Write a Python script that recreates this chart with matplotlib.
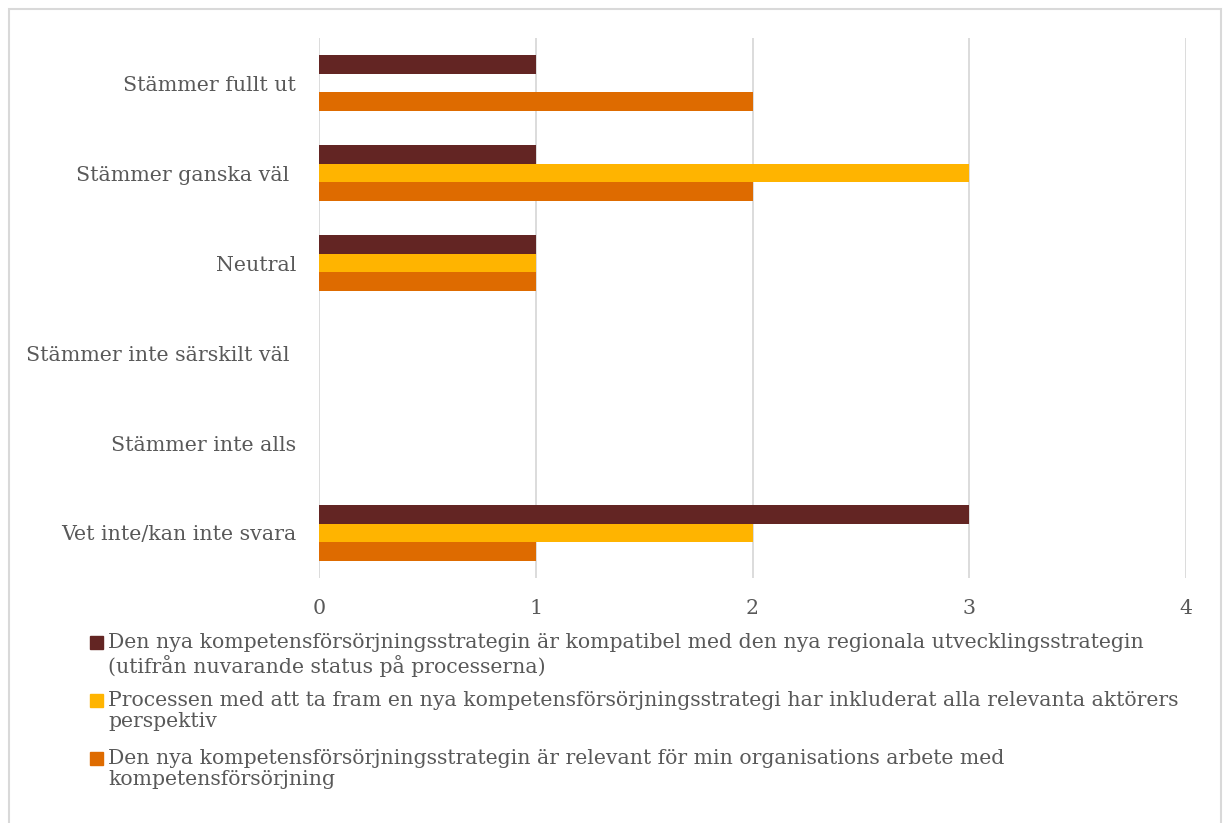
import matplotlib
matplotlib.use("Agg")
import matplotlib.pyplot as plt
from matplotlib.patches import Rectangle
import numpy as np

plt.rcParams["font.family"] = ["DejaVu Serif"]

categories = [
    "Stämmer fullt ut",
    "Stämmer ganska väl ",
    "Neutral",
    "Stämmer inte särskilt väl ",
    "Stämmer inte alls",
    "Vet inte/kan inte svara",
]

series_labels = [
    "Den nya kompetensförsörjningsstrategin är kompatibel med den nya regionala utvecklingsstrategin\n(utifrån nuvarande status på processerna)",
    "Processen med att ta fram en nya kompetensförsörjningsstrategi har inkluderat alla relevanta aktörers\nperspektiv",
    "Den nya kompetensförsörjningsstrategin är relevant för min organisations arbete med\nkompetensförsörjning",
]
kompatibel = [1, 1, 1, 0, 0, 3]
inkluderat = [0, 3, 1, 0, 0, 2]
relevant = [2, 2, 1, 0, 0, 1]
colors = ["#632523", "#FFB400", "#DE6B00"]

text_color = "#595959"
grid_color = "#D9D9D9"

fig = plt.figure(figsize=(12.24, 8.23), dpi=100)
ax = fig.add_axes([0.2606, 0.2977, 0.7084, 0.6561])

y = np.arange(len(categories))
h = 0.206
for i, vals in enumerate([kompatibel, inkluderat, relevant]):
    ax.barh(y + (i - 1) * h, vals, height=h, color=colors[i], zorder=3)

ax.set_xlim(0, 4)
ax.set_ylim(len(categories) - 0.5, -0.5)
ax.set_xticks([0, 1, 2, 3, 4])
ax.set_yticks(y)
ax.set_yticklabels(categories)
ax.grid(axis="x", color=grid_color, linewidth=1.3, zorder=0)
for s in ax.spines.values():
    s.set_visible(False)
ax.tick_params(axis="both", length=0, labelsize=14.8, colors=text_color)
ax.tick_params(axis="x", pad=15)
ax.tick_params(axis="y", pad=16.5)

# legend, handle next to first line of each entry
leg_x = 90 / 1224
leg_rows = [642, 700, 758]
for i, lab in enumerate(series_labels):
    yc = 1 - leg_rows[i] / 823
    fig.patches.append(Rectangle((leg_x, yc - 6.5 / 823), 13 / 1224, 13 / 823,
                                 transform=fig.transFigure, color=colors[i]))
    fig.text(108 / 1224, yc + 9 / 823, lab, fontsize=14.7, color=text_color,
             va="top", ha="left", linespacing=1.16)

# outer border
fig.patches.append(Rectangle((9 / 1224, -0.05), 1212 / 1224, 1.05 - 9 / 823,
                             transform=fig.transFigure, fill=False,
                             edgecolor=grid_color, linewidth=1.5))

fig.savefig("out.png", dpi=100)
